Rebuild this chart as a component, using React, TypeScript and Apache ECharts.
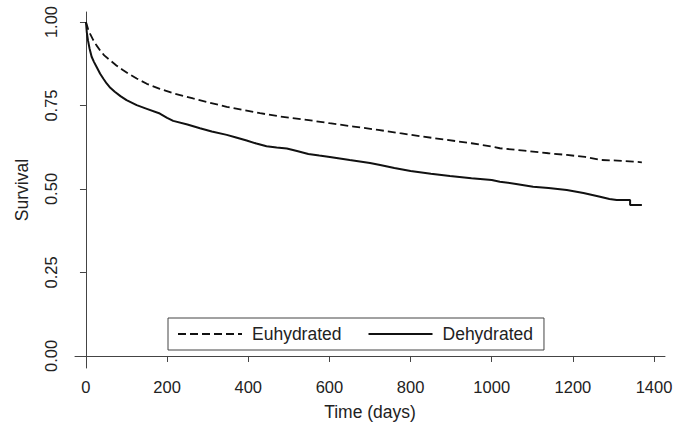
import React, { useEffect, useRef } from "react";
import * as echarts from "echarts";

const seriesNames = ["Euhydrated", "Dehydrated"];

const euTime = [0, 3, 6, 10, 18, 26, 35, 45, 59, 75, 90, 105, 125, 150, 182, 220, 264, 300, 347, 390, 429, 480, 544, 600, 660, 720, 774, 830, 890, 950, 1000, 1020, 1080, 1140, 1185, 1230, 1267, 1310, 1349, 1370];
const euSurv = [1.0, 0.988, 0.976, 0.965, 0.946, 0.93, 0.915, 0.9, 0.886, 0.87, 0.857, 0.845, 0.831, 0.815, 0.8, 0.785, 0.771, 0.76, 0.746, 0.736, 0.727, 0.717, 0.707, 0.697, 0.687, 0.677, 0.667, 0.657, 0.647, 0.637, 0.627, 0.622, 0.615, 0.607, 0.602, 0.596, 0.587, 0.585, 0.582, 0.58];

const deTime = [0, 2, 5, 9, 14, 20, 26, 35, 43, 51, 60, 71, 85, 100, 125, 150, 182, 200, 215, 250, 281, 310, 347, 370, 396, 420, 445, 470, 495, 520, 548, 575, 601, 650, 700, 725, 760, 800, 850, 897, 950, 1000, 1020, 1060, 1102, 1140, 1185, 1226, 1267, 1290, 1308, 1341, 1341, 1370];
const deSurv = [1.0, 0.97, 0.945, 0.92, 0.896, 0.88, 0.866, 0.845, 0.83, 0.816, 0.803, 0.791, 0.778, 0.766, 0.751, 0.74, 0.726, 0.713, 0.704, 0.693, 0.682, 0.672, 0.662, 0.654, 0.645, 0.636, 0.628, 0.624, 0.621, 0.614, 0.605, 0.6, 0.596, 0.587, 0.578, 0.572, 0.563, 0.554, 0.546, 0.539, 0.532, 0.527, 0.522, 0.515, 0.507, 0.503, 0.497, 0.488, 0.477, 0.47, 0.467, 0.467, 0.452, 0.452];

const xTicks = [0, 200, 400, 600, 800, 1000, 1200, 1400];
const yTicks = [0, 0.25, 0.5, 0.75, 1.0];

const FONT = "'Liberation Sans', Arial, Helvetica, sans-serif";
const TEXT = "#222";
const AXIS = "#444";

export default function App() {
  const ref = useRef<HTMLDivElement>(null);
  useEffect(() => {
    if (!ref.current) return;
    const chart = echarts.init(ref.current, undefined, { renderer: "svg" });
    const pairs = (t: number[], v: number[]) => t.map((x, i) => [x, v[i]]);
    chart.setOption({
      animation: false,
      backgroundColor: "#fff",
      textStyle: { fontFamily: FONT },
      grid: { left: 75, right: 24, top: 12, bottom: 58 },
      legend: {
        data: seriesNames,
        left: 168,
        top: 318,
        orient: "horizontal",
        padding: [7, 11, 7, 9],
        itemGap: 26,
        itemWidth: 64,
        itemHeight: 14,
        borderColor: AXIS,
        borderWidth: 1,
        itemStyle: { opacity: 0 },
        textStyle: { fontSize: 17.5, color: TEXT, fontFamily: FONT, padding: [0, 0, 0, 5] },
      },
      xAxis: {
        type: "value",
        min: -27,
        max: 1427,
        name: "Time (days)",
        nameLocation: "middle",
        nameGap: 35,
        nameTextStyle: { fontSize: 17.5, color: TEXT, fontFamily: FONT },
        splitLine: { show: false },
        axisLine: { show: true, lineStyle: { color: AXIS, width: 1 } },
        axisTick: { show: true, length: 6, customValues: xTicks, lineStyle: { color: AXIS } },
        axisLabel: {
          customValues: xTicks,
          fontSize: 16.5,
          color: TEXT,
          margin: 10,
          fontFamily: FONT,
          formatter: (v: number) => String(v),
        },
      },
      yAxis: {
        type: "value",
        min: -0.036,
        max: 1.03,
        name: "Survival",
        nameLocation: "middle",
        nameGap: 44,
        nameTextStyle: { fontSize: 17.5, color: TEXT, fontFamily: FONT },
        splitLine: { show: false },
        axisLine: { show: true, lineStyle: { color: AXIS, width: 1 } },
        axisTick: { show: true, length: 6, customValues: yTicks, lineStyle: { color: AXIS } },
        axisLabel: {
          customValues: yTicks,
          rotate: 90,
          fontSize: 16.5,
          color: TEXT,
          margin: 16,
          fontFamily: FONT,
          formatter: (v: number) => v.toFixed(2),
        },
      },
      series: [
        {
          name: seriesNames[0],
          type: "line",
          symbol: "none",
          data: pairs(euTime, euSurv),
          lineStyle: { color: "#111", width: 1.8, type: [8, 4] },
          itemStyle: { color: "#111" },
        },
        {
          name: seriesNames[1],
          type: "line",
          symbol: "none",
          data: pairs(deTime, deSurv),
          lineStyle: { color: "#111", width: 2 },
          itemStyle: { color: "#111" },
        },
      ],
    });
    return () => chart.dispose();
  }, []);
  return <div ref={ref} style={{ position: "fixed", left: 0, top: 0, width: 689, height: 426 }} />;
}
